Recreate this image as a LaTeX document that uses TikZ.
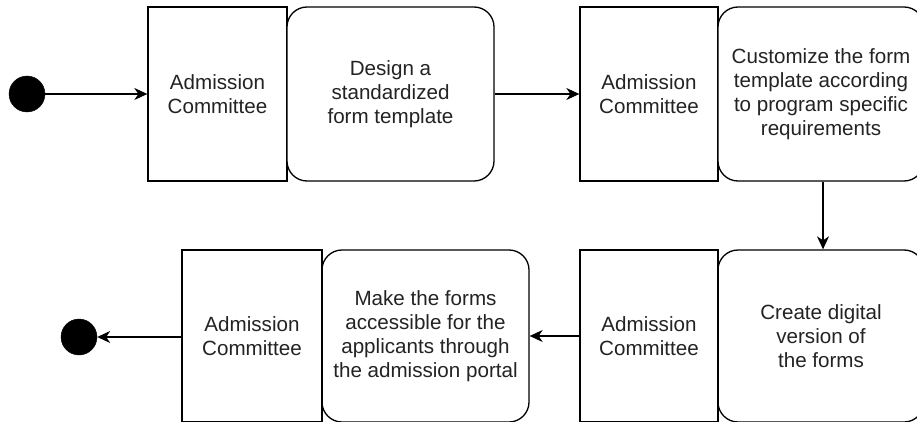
\documentclass[tikz,border=0pt]{standalone}
\usepackage{fontspec}
\setmainfont{Liberation Sans}
\usetikzlibrary{arrows.meta}
\definecolor{txt}{RGB}{35,35,35}
\tikzset{
  lane/.style={draw=black, line width=1.3pt, fill=white, rectangle, minimum width=139pt, inner sep=0pt, text=txt, align=center, font=\fontsize{20.6}{24}\selectfont},
  act/.style={lane, rounded corners=20pt},
  dot/.style={circle, fill=black, draw=black, minimum size=36pt, inner sep=0pt},
  arr/.style={draw=black, line width=1.3pt, -{Stealth[length=13pt,width=12pt,inset=4pt]}}
}
\begin{document}
\begin{tikzpicture}[x=1pt,y=-1pt]
\useasboundingbox (0,0) rectangle (917,422);
\clip (0,0) rectangle (917,422);
% top row
\node[dot] (start) at (27,94) {};
\node[lane, minimum height=174pt] (b1) at (217.5,94) {Admission\\Committee};
\node[act, minimum width=207pt, minimum height=174pt] (b2) at (390.5,94) {Design a\\standardized\\form template};
\node[lane, minimum width=138pt, minimum height=174pt] (b3) at (649,94) {Admission\\Committee};
\node[act, minimum width=206pt, minimum height=174pt] (b4) at (821,94) {Customize the form\\template according\\to program specific\\requirements};
% bottom row
\node[act, minimum width=206pt, minimum height=172pt] (b8) at (821,336) {Create digital\\version of\\the forms};
\node[lane, minimum width=138pt, minimum height=172pt] (b5) at (649,336) {Admission\\Committee};
\node[act, minimum width=207pt, minimum height=172pt] (b6) at (425.5,336) {Make the forms\\accessible for the\\applicants through\\the admission portal};
\node[lane, minimum width=140pt, minimum height=172pt] (b7) at (252,336) {Admission\\Committee};
\node[dot] (end) at (79,337) {};
% connectors
\draw[arr] (start) -- (b1);
\draw[arr] (b2) -- (b3);
\draw[arr] (b4.south -| 823,0) -- (b8.north -| 823,0);
\draw[arr] (b5) -- (b6);
\draw[arr] (b7.west |- end) -- (end);
\end{tikzpicture}
\end{document}
